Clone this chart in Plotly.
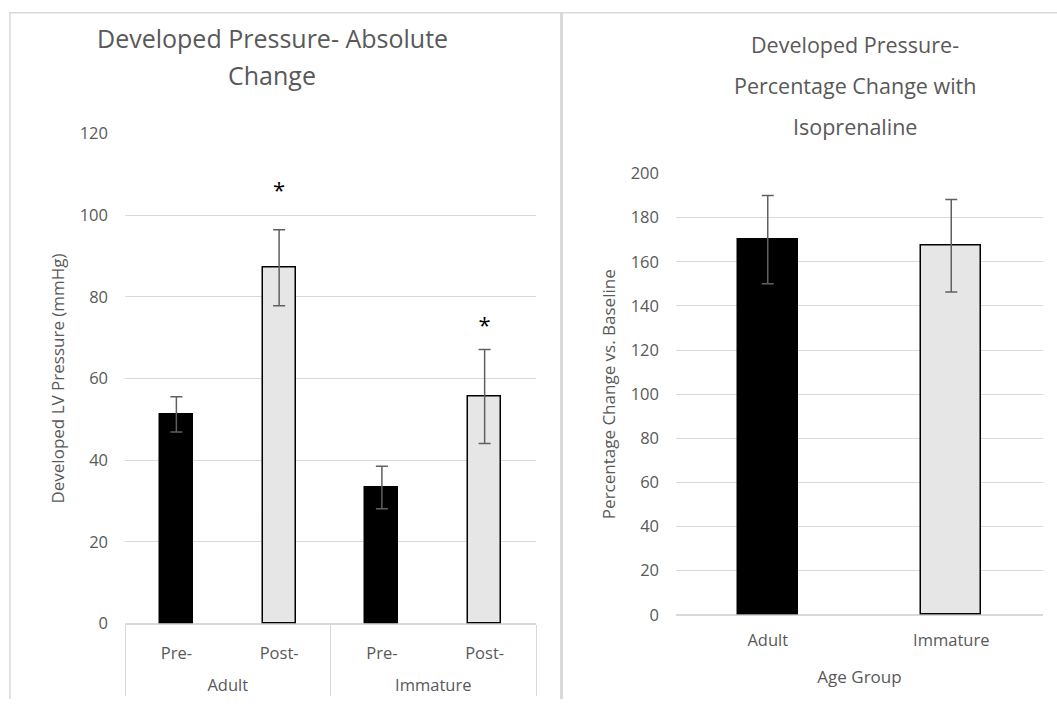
import plotly.graph_objects as go

# ---- data ----
left_groups = ["Adult", "Adult", "Immature", "Immature"]
left_phases = ["Pre-", "Post-", "Pre-", "Post-"]
left_values = [51.2, 87.1, 33.3, 55.6]
left_errors = [4.3, 9.3, 5.2, 11.5]
left_colors = ["#000000", "#e7e6e6", "#000000", "#e7e6e6"]

star_groups = ["Adult", "Immature"]
star_phases = ["Post-", "Post-"]
star_y = [105.5, 72.5]

right_groups = ["Adult", "Immature"]
right_values = [170.1, 167.3]
right_errors = [20.0, 21.0]
right_colors = ["#000000", "#e7e6e6"]

left_title = ["Developed Pressure- Absolute", "Change"]
right_title = ["Developed Pressure-", "Percentage Change with", "Isoprenaline"]

W, H = 1057, 710
FONT = "Open Sans"
TXT = "#595959"
GRID = "#d9d9d9"
ERR = "#606060"


def px(x):
    return x / W


def py(y):
    return 1 - y / H


# second-level labels pushed one line lower, as in the reference
def lower(names):
    return ["<br>" + n for n in names]


fig = go.Figure()
fig.add_trace(go.Bar(
    x=[lower(left_groups), left_phases], y=left_values, width=0.32,
    marker=dict(color=left_colors, line=dict(color="black", width=1.5)),
    error_y=dict(type="data", array=left_errors, color=ERR, thickness=1.5, width=6),
    xaxis="x", yaxis="y", showlegend=False))
fig.add_trace(go.Scatter(
    x=[lower(star_groups), star_phases], y=star_y, mode="text", text=["*", "*"],
    textfont=dict(family=FONT, size=22, color="black"),
    xaxis="x", yaxis="y", showlegend=False))
fig.add_trace(go.Bar(
    x=right_groups, y=right_values, width=0.327,
    marker=dict(color=right_colors, line=dict(color="black", width=1.5)),
    error_y=dict(type="data", array=right_errors, color=ERR, thickness=1.5, width=6),
    xaxis="x2", yaxis="y2", showlegend=False))

tickfont = dict(family=FONT, size=16.5, color=TXT)
titlefont = dict(family=FONT, size=17, color=TXT)

fig.update_layout(
    width=W, height=H, margin=dict(l=0, r=0, t=0, b=0),
    paper_bgcolor="white", plot_bgcolor="white", bargap=0,
    xaxis=dict(domain=[px(125), px(536)], anchor="y", type="multicategory",
               showline=True, linecolor=GRID, linewidth=1,
               showdividers=True, dividercolor=GRID, dividerwidth=1,
               ticks="", ticklabelstandoff=15,
               tickfont=tickfont, showgrid=False),
    yaxis=dict(domain=[py(632), py(125.5)], anchor="x", range=[0, 120], dtick=20,
               showgrid=True, gridcolor=GRID, gridwidth=1,
               zeroline=True, zerolinecolor=GRID, showline=False,
               ticks="", ticklabelstandoff=16, tickfont=tickfont,
               title=dict(text="Developed LV Pressure (mmHg)", font=titlefont, standoff=10)),
    xaxis2=dict(domain=[px(676), px(1043)], anchor="y2", type="category",
                showline=False, ticks="", ticklabelstandoff=14, tickfont=tickfont, showgrid=False,
                title=dict(text="Age Group", font=titlefont, standoff=20)),
    yaxis2=dict(domain=[py(623), py(167)], anchor="x2", range=[0, 200], dtick=20,
                showgrid=True, gridcolor=GRID, gridwidth=1,
                zeroline=True, zerolinecolor=GRID, showline=False,
                ticks="", ticklabelstandoff=16, tickfont=tickfont,
                title=dict(text="Percentage Change vs. Baseline", font=titlefont, standoff=10)),
)

# titles, one annotation per line
ann = []
for i, t in enumerate(left_title):
    ann.append(dict(text=t, xref="paper", yref="paper", x=px(272), y=py(27 + 38 * i),
                    xanchor="center", yanchor="middle", showarrow=False,
                    font=dict(family=FONT, size=25, color=TXT)))
for i, t in enumerate(right_title):
    ann.append(dict(text=t, xref="paper", yref="paper", x=px(855), y=py(34 + 42 * i),
                    xanchor="center", yanchor="middle", showarrow=False,
                    font=dict(family=FONT, size=21.5, color=TXT)))
fig.update_layout(annotations=ann)

# panel frames
fig.update_layout(shapes=[
    dict(type="line", xref="paper", yref="paper", x0=px(9), x1=1, y0=py(0.8), y1=py(0.8),
         line=dict(color=GRID, width=1.5)),
    dict(type="line", xref="paper", yref="paper", x0=px(10), x1=px(10), y0=py(0.8), y1=0,
         line=dict(color=GRID, width=1.5)),
    dict(type="line", xref="paper", yref="paper", x0=px(561.5), x1=px(561.5), y0=py(0.8), y1=0,
         line=dict(color=GRID, width=3)),
])

post = (
    "document.documentElement.style.margin='0';"
    "document.body.style.margin='0';"
    "document.body.style.overflow='hidden';"
    "var gd=document.getElementById('{plot_id}');"
    "gd.style.position='fixed';gd.style.top='0px';gd.style.left='0px';"
)
fig.write_html("out.html", config={"displayModeBar": False}, post_script=post)
